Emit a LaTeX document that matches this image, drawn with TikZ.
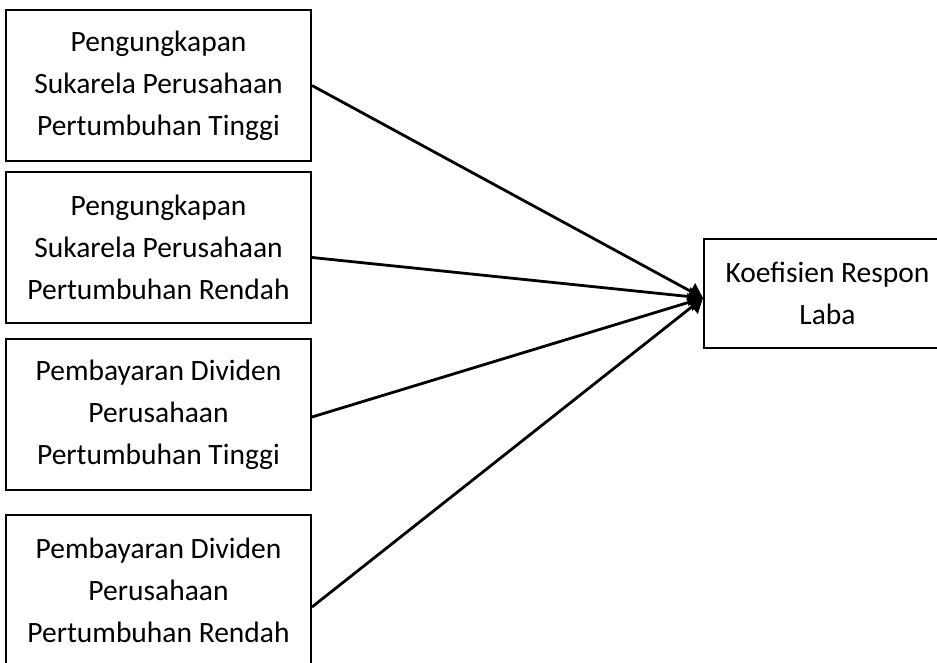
\documentclass[tikz,border=0pt]{standalone}
\usepackage{fontspec}
\setmainfont{Carlito}
\usetikzlibrary{arrows.meta, positioning}
\tikzset{ box/.style = {draw, line width=2pt, minimum width=305pt, minimum height=151pt, inner sep=0pt, align=center, font=\fontsize{29.5}{42}\selectfont},
  link/.style = {line width=2.8pt, -{Triangle[length=14pt, width=18pt]}} }

\begin{document}
\begin{tikzpicture}[x=1pt, y=-1pt]
  \useasboundingbox (0,0) rectangle (937,663);
  \path (158.5,85.5) node[box] (hdisc) {Pengungkapan\\Sukarela Perusahaan\\Pertumbuhan Tinggi}
      ++(0,162) node[box] (ldisc) {Pengungkapan\\Sukarela Perusahaan\\Pertumbuhan Rendah}
      ++(0,167) node[box] (hdiv) {Pembayaran Dividen\\Perusahaan\\Pertumbuhan Tinggi}
      ++(0,176) node[box] (ldiv) {Pembayaran Dividen\\Perusahaan\\Pertumbuhan Rendah};
  \node[box, minimum width=247pt, minimum height=109pt] (erc) at (827.5,293.5) {Koefisien Respon\\Laba};

  \coordinate (tip) at ([yshift=-4.5pt]erc.west);
  \foreach \src/\dy in {hdisc/0, ldisc/-10, hdiv/-2.5, ldiv/-16.5}
    \draw[link] ([yshift=\dy pt]\src.east) -- (tip);
\end{tikzpicture}
\end{document}
